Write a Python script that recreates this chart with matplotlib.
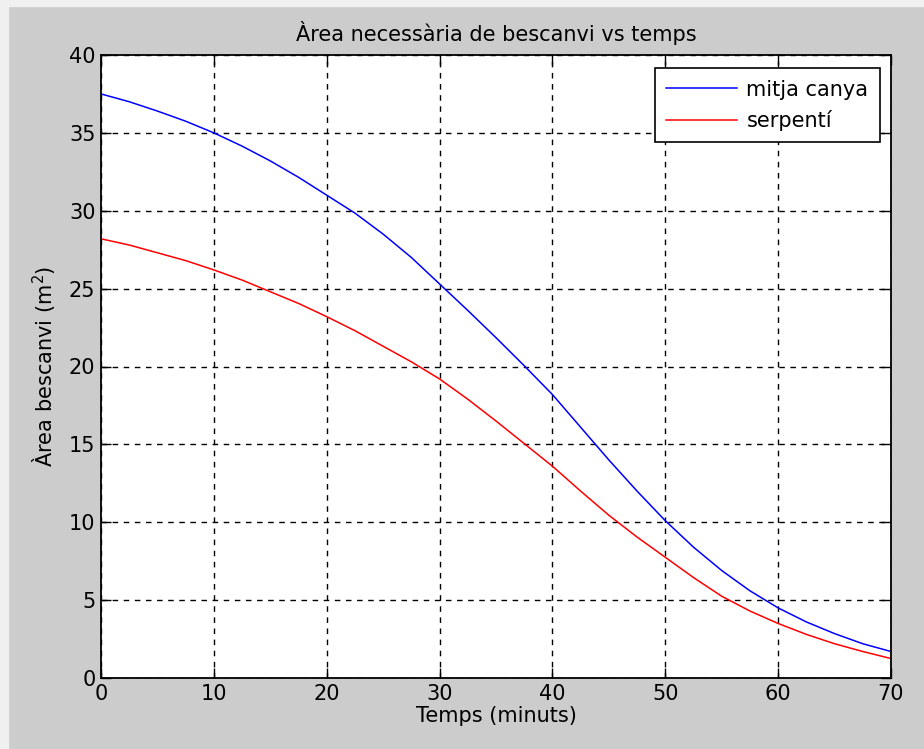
import matplotlib
matplotlib.use('Agg')
import matplotlib.pyplot as plt
from matplotlib.patches import Rectangle

# temps (minuts) i àrees llegides del gràfic
temps = [0, 2.5, 5, 7.5, 10, 12.5, 15, 17.5, 20, 22.5, 25, 27.5, 30, 32.5, 35,
         37.5, 40, 42.5, 45, 47.5, 50, 52.5, 55, 57.5, 60, 62.5, 65, 67.5, 70]
mitja_canya = [37.5, 37.0, 36.4, 35.75, 35.0, 34.15, 33.2, 32.15, 31.0, 29.85,
               28.5, 27.0, 25.3, 23.6, 21.85, 20.05, 18.2, 16.1, 14.0, 12.0,
               10.1, 8.4, 6.9, 5.6, 4.5, 3.6, 2.85, 2.2, 1.7]
serpenti = [28.2, 27.8, 27.3, 26.8, 26.2, 25.55, 24.8, 24.05, 23.2, 22.3,
            21.3, 20.3, 19.2, 17.9, 16.5, 15.05, 13.6, 12.0, 10.45, 9.05,
            7.75, 6.45, 5.25, 4.3, 3.5, 2.8, 2.2, 1.7, 1.25]

x_ticks = [0, 10, 20, 30, 40, 50, 60, 70]
y_ticks = [0, 5, 10, 15, 20, 25, 30, 35, 40]

plt.rcParams['font.family'] = ['DejaVu Sans']

fig = plt.figure(figsize=(9.24, 7.49), dpi=100)
fig.patch.set_facecolor('#cccccc')
# vora clara de la finestra
fig.add_artist(Rectangle((0, 1 - 6 / 749), 1, 6 / 749, transform=fig.transFigure,
                         color='#f0f0f0', zorder=0))
fig.add_artist(Rectangle((0, 0), 8 / 924, 1, transform=fig.transFigure,
                         color='#f0f0f0', zorder=0))

ax = fig.add_axes([101 / 924, 71 / 749, 790 / 924, 623 / 749])
ax.set_facecolor('white')

ax.plot(temps, mitja_canya, color='#0000ff', lw=1.1, label='mitja canya')
ax.plot(temps, serpenti, color='#ff0000', lw=1.1, label='serpentí')

ax.set_xlim(0, 70)
ax.set_ylim(0, 40)
ax.set_xticks(x_ticks)
ax.set_yticks(y_ticks)
ax.tick_params(direction='in', top=True, right=True, length=7, width=1,
               labelsize=15, pad=4, colors='black')
ax.grid(True, color='black', linestyle=(0, (4, 4)), linewidth=1)
for sp in ax.spines.values():
    sp.set_linewidth(1.3)
    sp.set_color('black')

ax.set_title('Àrea necessària de bescanvi vs temps', fontsize=15, pad=10)
ax.set_xlabel('Temps (minuts)', fontsize=15, labelpad=2)
ax.set_ylabel('Àrea bescanvi (m$^2$)', fontsize=15, labelpad=8)

leg = ax.legend(loc='upper right', bbox_to_anchor=(0.986, 0.979), fontsize=15,
                fancybox=False, framealpha=1, edgecolor='black', borderaxespad=0,
                handlelength=3.4, handletextpad=0.45, borderpad=0.55,
                labelspacing=0.5)
leg.get_frame().set_linewidth(1.2)

fig.savefig('out.png', dpi=100, facecolor=fig.get_facecolor())
